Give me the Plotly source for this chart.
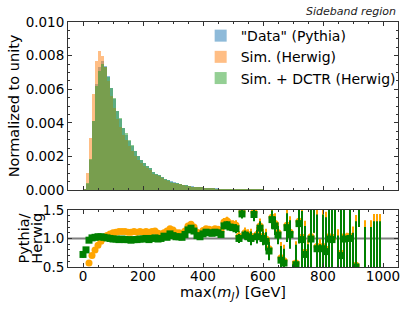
import plotly.graph_objects as go

# ---------------- data ----------------
bin_centers = [5 + 10 * i for i in range(60)]
ratio_x = [10 * i for i in range(100)]

hist_data = [0.00003, 0.00035, 0.0018, 0.0041, 0.0063, 0.0073, 0.0077, 0.0074, 0.0068, 0.0061,
             0.0054, 0.0047, 0.0042, 0.0037, 0.0033, 0.0029, 0.0026, 0.0023, 0.0020, 0.0018,
             0.0016, 0.00145, 0.0013, 0.0011, 0.00098, 0.00088, 0.00078, 0.00068, 0.0006, 0.00053,
             0.00047, 0.00042, 0.00037, 0.00033, 0.0003, 0.00027, 0.00024, 0.00021, 0.00019, 0.00017,
             0.00015, 0.00013, 0.00012, 0.00011, 0.0001, 0.00009, 0.00008, 0.00007, 0.00006, 0.000055,
             0.00005, 0.000045, 0.00004, 0.000036, 0.000032, 0.000029, 0.000026, 0.000023, 0.00002, 0.000018]

hist_sim = [0.00005, 0.0010, 0.0031, 0.0057, 0.0077, 0.0083, 0.0080, 0.0073, 0.0065, 0.0056,
            0.0049, 0.0042, 0.00375, 0.0033, 0.00295, 0.0026, 0.00234, 0.00205, 0.0018, 0.0016,
            0.00144, 0.0013, 0.00117, 0.00098, 0.00087, 0.00081, 0.00072, 0.00062, 0.00053, 0.00045,
            0.00041, 0.00038, 0.00034, 0.0003, 0.00027, 0.00022, 0.00019, 0.000175, 0.00017, 0.000156,
            0.00013, 0.00011, 0.0001, 0.000096, 0.000085, 0.000078, 0.000071, 0.000054, 0.000046, 0.000044,
            0.00004, 0.000037, 0.000038, 0.000024, 0.000029, 0.000027, 0.000025, 0.000016, 0.000019, 0.000015]

hist_dctr = [0.00004, 0.00044, 0.00186, 0.0041, 0.0062, 0.0071, 0.0075, 0.0073, 0.0067, 0.0061,
             0.0055, 0.0047, 0.0043, 0.0037, 0.0034, 0.0030, 0.0027, 0.0023, 0.0020, 0.0018,
             0.0016, 0.00145, 0.0013, 0.0011, 0.00097, 0.00089, 0.00078, 0.00065, 0.00059, 0.00049,
             0.00045, 0.00041, 0.00036, 0.00032, 0.00028, 0.00023, 0.0002, 0.00019, 0.00018, 0.00017,
             0.00014, 0.00012, 0.00011, 0.0001, 0.00009, 0.00008, 0.000075, 0.000057, 0.000048, 0.000046,
             0.000042, 0.000038, 0.00004, 0.000025, 0.00003, 0.000031, 0.000026, 0.000016, 0.00002, 0.000015]

ratio_sim = [None, 0.42, 0.57, 0.70, 0.80, 0.88, 0.95, 1.01, 1.05, 1.08,
             1.10, 1.11, 1.12, 1.12, 1.12, 1.11, 1.11, 1.12, 1.11, 1.12,
             1.11, 1.12, 1.11, 1.12, 1.13, 1.09, 1.08, 1.10, 1.13, 1.17,
             1.15, 1.10, 1.10, 1.09, 1.13, 1.22, 1.25, 1.20, 1.11, 1.09,
             1.14, 1.17, 1.16, 1.15, 1.17, 1.16, 1.13, 1.29, 1.31, 1.26,
             1.25, 1.23, 1.04, 1.47, 1.10, 1.07, 1.04, 1.46, 1.07, 1.22,
             1.04, 0.99, 0.82, 1.37, 1.26, 1.10, 0.66, 0.61, 1.23, 1.11,
             0.33, 0.57, 1.30, 1.02, 0.76, 0.43, 1.03, 1.75, 0.86, 0.33,
             0.86, 0.81, 1.03, 1.02, 1.85, 0.28, 0.74, 1.03, 0.22, 1.04,
             0.33, 0.53, 2.10, None, 0.22, None, 0.22, 0.33, 0.33, 0.33]

err_sim = [0.07, 0.05, 0.02, 0.02, 0.02, 0.02, 0.02, 0.02, 0.02, 0.02,
           0.02, 0.02, 0.02, 0.02, 0.02, 0.02, 0.02, 0.02, 0.02, 0.02,
           0.02, 0.025, 0.025, 0.025, 0.025, 0.025, 0.025, 0.03, 0.03, 0.03,
           0.03, 0.035, 0.035, 0.035, 0.035, 0.035, 0.035, 0.035, 0.035, 0.035,
           0.035, 0.045, 0.045, 0.045, 0.045, 0.045, 0.045, 0.07, 0.07, 0.07,
           0.07, 0.09, 0.09, 0.09, 0.09, 0.09, 0.13, 0.13, 0.13, 0.13,
           0.13, 0.18, 0.18, 0.18, 0.18, 0.18, 0.28, 0.28, 0.28, 0.28,
           0.28, 0.38, 0.38, 0.55, 0.55, 0.55, 0.66, 0.66, 0.66, 0.66,
           0.66, 0.66, 0.66, 0.88, 0.88, 0.88, 0.88, 0.88, 0.88, 0.88,
           0.88, 0.88, 0.88, 0.0, 1.1, 0.0, 1.1, 1.1, 1.1, 1.1]

ratio_dctr = [0.72, 0.80, 0.97, 1.01, 1.02, 1.03, 1.03, 1.02, 1.01, 1.00,
              0.99, 0.99, 0.98, 0.99, 0.98, 0.98, 0.97, 0.98, 0.98, 0.99,
              0.99, 1.00, 0.98, 1.00, 1.01, 0.99, 1.00, 1.04, 1.02, 1.08,
              1.05, 1.03, 1.03, 1.02, 1.07, 1.15, 1.18, 1.13, 1.05, 1.03,
              1.08, 1.11, 1.10, 1.09, 1.11, 1.10, 1.07, 1.22, 1.24, 1.20,
              1.19, 1.17, 1.00, 1.43, 1.06, 1.03, 1.00, 1.42, 1.03, 1.18,
              1.00, 0.95, 0.78, 1.33, 1.22, 1.06, 0.62, 0.57, 1.19, 1.07,
              0.30, 0.54, 1.26, 0.98, 0.72, 0.40, 0.99, 1.70, 0.82, 0.30,
              0.82, 0.77, 0.99, 0.98, 1.80, 0.25, 0.70, 0.99, 0.20, 1.00,
              0.30, 0.50, 2.00, None, 0.20, None, 0.20, 0.30, 0.30, 0.30]

err_dctr = [0.06, 0.04, 0.02, 0.015, 0.015, 0.015, 0.015, 0.015, 0.015, 0.015,
            0.015, 0.015, 0.015, 0.015, 0.015, 0.015, 0.015, 0.015, 0.015, 0.015,
            0.015, 0.02, 0.02, 0.02, 0.02, 0.02, 0.02, 0.025, 0.025, 0.025,
            0.025, 0.03, 0.03, 0.03, 0.03, 0.03, 0.03, 0.03, 0.03, 0.03,
            0.03, 0.04, 0.04, 0.04, 0.04, 0.04, 0.04, 0.06, 0.06, 0.06,
            0.06, 0.08, 0.08, 0.08, 0.08, 0.08, 0.12, 0.12, 0.12, 0.12,
            0.12, 0.16, 0.16, 0.16, 0.16, 0.16, 0.25, 0.25, 0.25, 0.25,
            0.25, 0.35, 0.35, 0.5, 0.5, 0.5, 0.6, 0.6, 0.6, 0.6,
            0.6, 0.6, 0.6, 0.8, 0.8, 0.8, 0.8, 0.8, 0.8, 0.8,
            0.8, 0.8, 0.8, 0.0, 1.0, 0.0, 1.0, 1.0, 1.0, 1.0]

x_ticks = [0, 200, 400, 600, 800, 1000]
top_y_ticks = [0.000, 0.002, 0.004, 0.006, 0.008, 0.010]
ratio_y_ticks = [0.5, 1.0, 1.5]

# ---------------- figure ----------------
FONT = "DejaVu Sans"
fig = go.Figure()

fig.add_trace(go.Bar(x=bin_centers, y=hist_data, width=10, name='"Data" (Pythia)',
                     marker=dict(color="#1f77b4", line=dict(width=0)), opacity=0.5,
                     xaxis="x", yaxis="y"))
fig.add_trace(go.Bar(x=bin_centers, y=hist_sim, width=10, name="Sim. (Herwig)",
                     marker=dict(color="#ff7f0e", line=dict(width=0)), opacity=0.5,
                     xaxis="x", yaxis="y"))
fig.add_trace(go.Bar(x=bin_centers, y=hist_dctr, width=10, name="Sim. + DCTR (Herwig)",
                     marker=dict(color="#2ca02c", line=dict(width=0)), opacity=0.5,
                     xaxis="x", yaxis="y"))

fig.add_trace(go.Scatter(x=ratio_x, y=ratio_sim, mode="markers", showlegend=False,
                         marker=dict(symbol="circle", size=7, color="orange"),
                         error_y=dict(type="data", array=err_sim, color="orange",
                                      thickness=2, width=0),
                         xaxis="x2", yaxis="y2"))
fig.add_trace(go.Scatter(x=ratio_x, y=ratio_dctr, mode="markers", showlegend=False,
                         marker=dict(symbol="square", size=7, color="green"),
                         error_y=dict(type="data", array=err_dctr, color="green",
                                      thickness=2, width=0),
                         xaxis="x2", yaxis="y2"))

axis_common = dict(showline=True, linecolor="#333333", linewidth=1, mirror="allticks",
                   ticks="inside", tickcolor="#333333", ticklen=4, tickwidth=1,
                   showgrid=False, zeroline=False,
                   tickfont=dict(family=FONT, size=13.5, color="black"))

fig.update_layout(
    width=415, height=312,
    margin=dict(l=68, r=17, t=22, b=45),
    paper_bgcolor="white", plot_bgcolor="white",
    barmode="overlay", bargap=0,
    font=dict(family=FONT, color="black"),
    xaxis=dict(domain=[0, 1], anchor="y", range=[-50, 1050], tickvals=x_ticks,
               showticklabels=False,
               minor=dict(ticks="inside", ticklen=2, dtick=50, tick0=0, tickcolor="#333333"),
               **axis_common),
    yaxis=dict(domain=[0.314, 1], anchor="x", range=[0, 0.010], tickvals=top_y_ticks,
               tickformat=".3f",
               minor=dict(ticks="inside", ticklen=2, dtick=0.0005, tick0=0, tickcolor="#333333"),
               **axis_common),
    xaxis2=dict(domain=[0, 1], anchor="y2", range=[-50, 1050], tickvals=x_ticks,
                ticklabelstandoff=-3,
                minor=dict(ticks="inside", ticklen=2, dtick=50, tick0=0, tickcolor="#333333"),
                **axis_common),
    yaxis2=dict(domain=[0, 0.233], anchor="x2", range=[0.5, 1.5], tickvals=ratio_y_ticks,
                tickformat=".1f",
                minor=dict(ticks="inside", ticklen=2, dtick=0.1, tick0=0.5, tickcolor="#333333"),
                **axis_common),
    legend=dict(x=0.402, y=1.008, xanchor="left", yanchor="top",
                bgcolor="rgba(0,0,0,0)", font=dict(family=FONT, size=14),
                itemwidth=30, tracegroupgap=0),
    shapes=[dict(type="line", xref="x2 domain", yref="y2", x0=0, x1=1, y0=1, y1=1,
                 line=dict(color="gray", width=2), layer="below")],
    annotations=[
        dict(text="<i>Sideband region</i>", xref="paper", yref="paper", x=1, y=1,
             xanchor="right", yanchor="bottom", yshift=2, showarrow=False,
             font=dict(family=FONT, size=11, color="#222222")),
        dict(text="Normalized to unity", xref="paper", yref="paper", x=-0.163, y=0.657,
             xanchor="center", yanchor="middle", textangle=-90, showarrow=False,
             font=dict(family=FONT, size=14.5)),
        dict(text="Pythia/", xref="paper", yref="paper", x=-0.133, y=0.1165,
             xanchor="center", yanchor="middle", textangle=-90, showarrow=False,
             font=dict(family=FONT, size=14.5)),
        dict(text="Herwig", xref="paper", yref="paper", x=-0.093, y=0.1165,
             xanchor="center", yanchor="middle", textangle=-90, showarrow=False,
             font=dict(family=FONT, size=14.5)),
        dict(text="max(<i>m</i><sub><i>J</i></sub>) [GeV]", xref="paper", yref="paper",
             x=0.5, y=0, xanchor="center", yanchor="top", yshift=-15, showarrow=False,
             font=dict(family=FONT, size=14.5)),
    ],
)

# remove the browser's default 8px body margin so the figure fills the window
fig.write_html("out.html", config={"displayModeBar": False},
               post_script="document.body.style.margin='0px';")
